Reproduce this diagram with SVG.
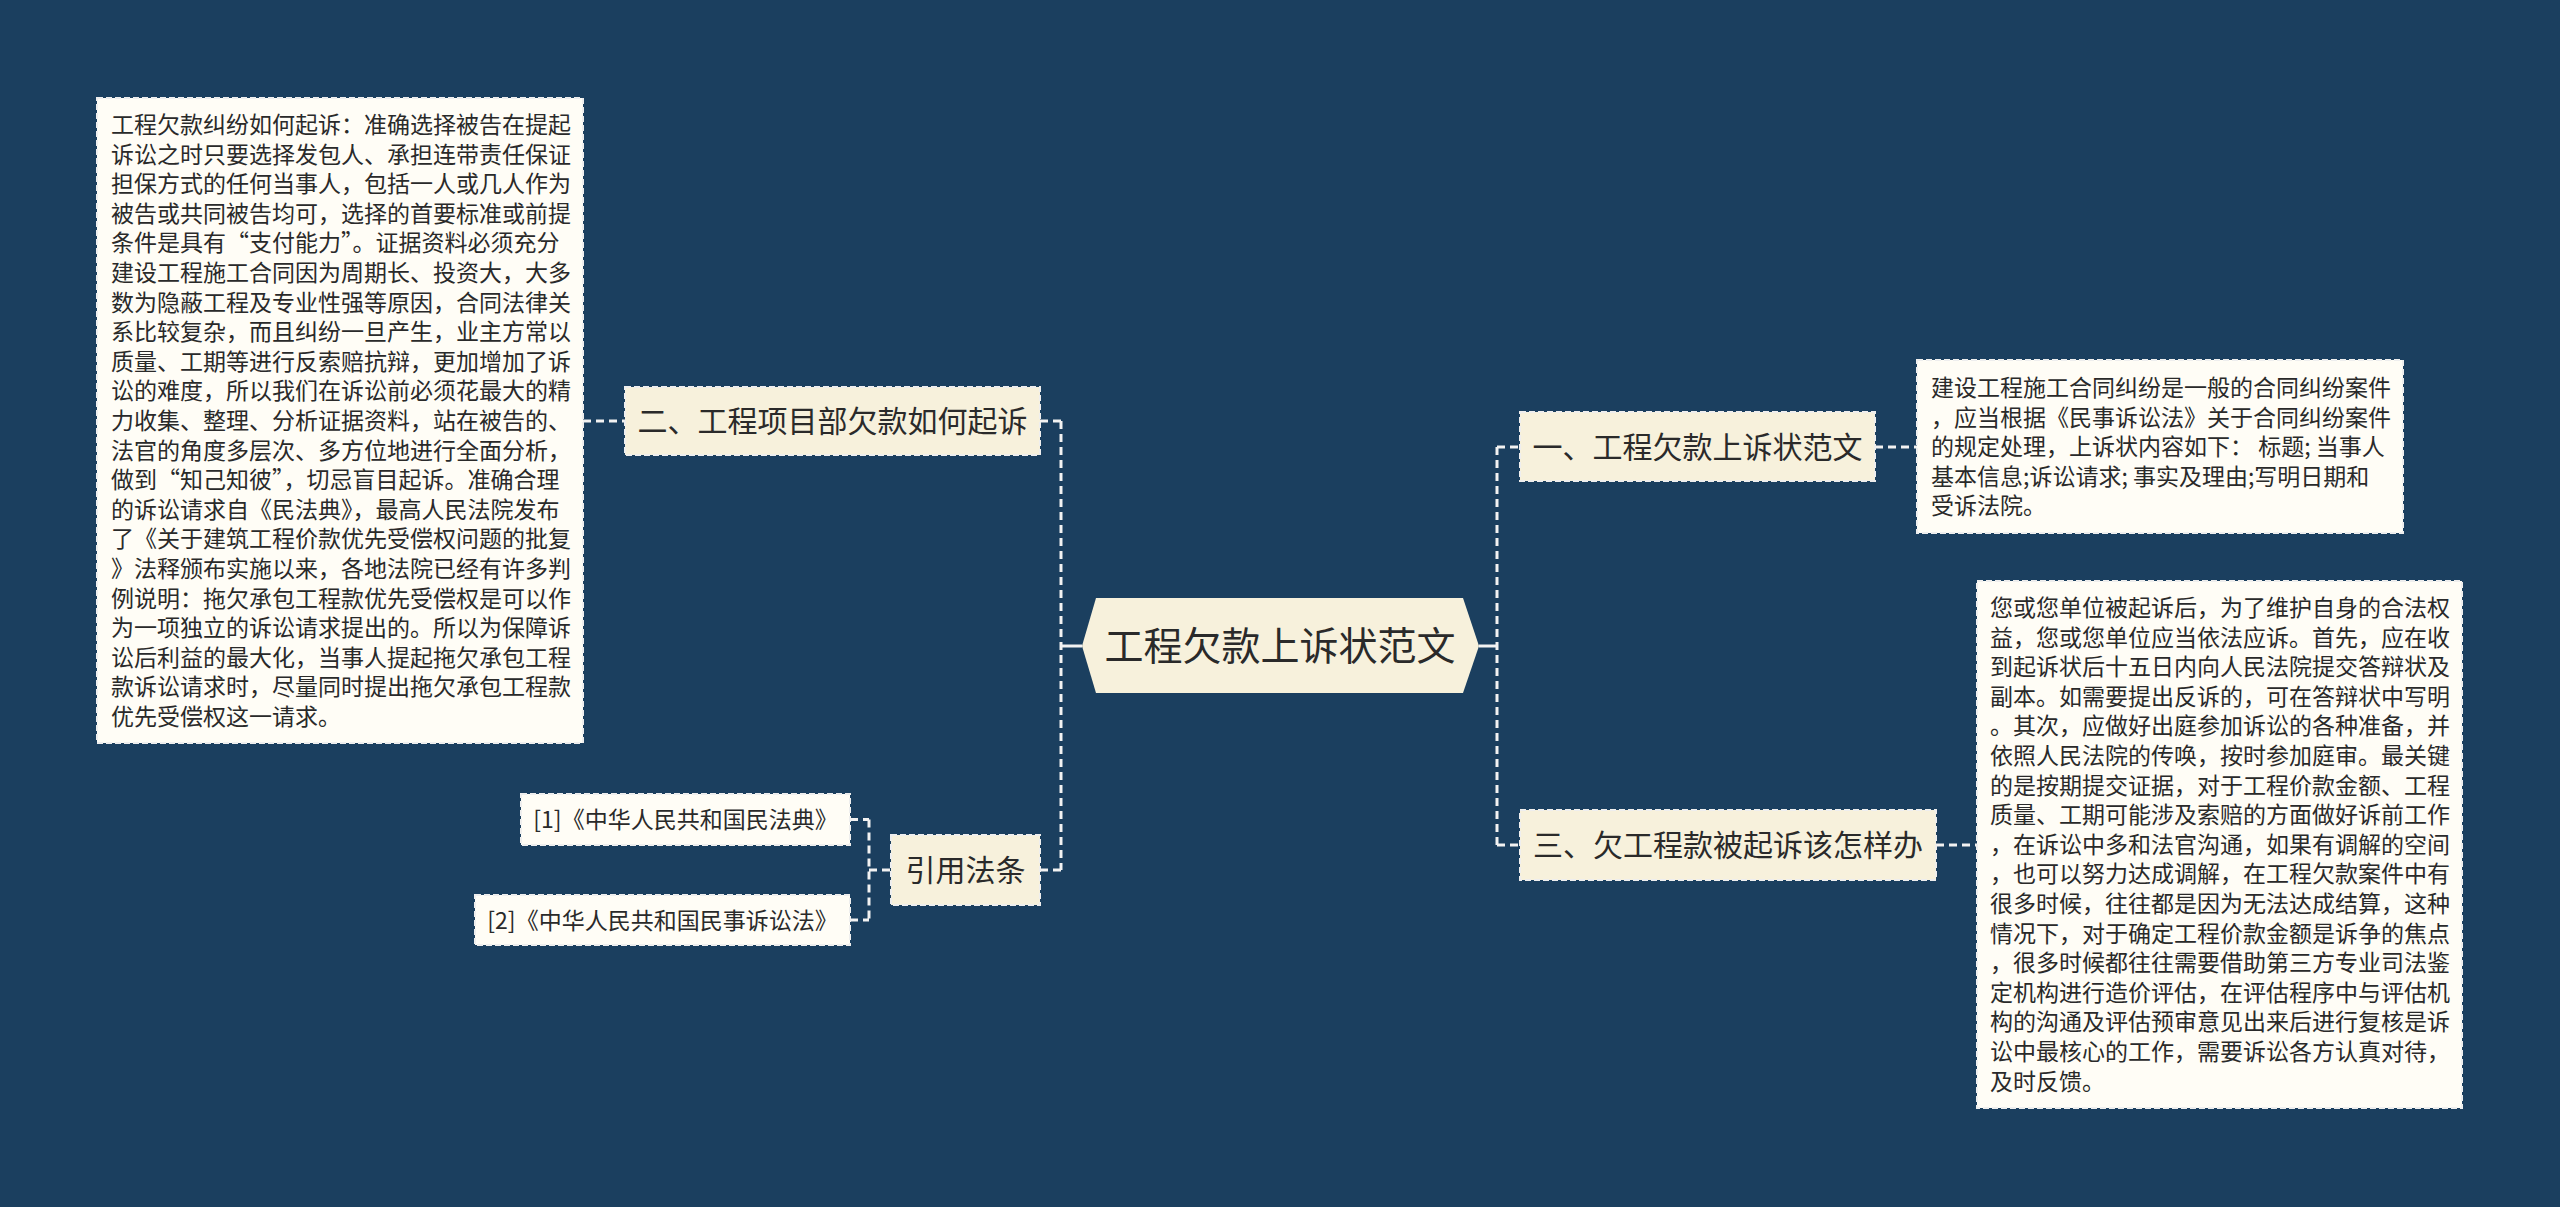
<svg xmlns="http://www.w3.org/2000/svg" width="2560" height="1207" viewBox="0 0 2560 1207">
<style>
.bg{fill:#1b3f5f}
.lvl{fill:#f7f1dc;stroke:#eeeeee;stroke-width:2;stroke-dasharray:6 3}
.leaf{fill:#fffdf6;stroke:#eeeeee;stroke-width:2;stroke-dasharray:6 3}
.t{font-family:"Noto Sans CJK SC","Noto Sans",sans-serif;fill:#2a2a2a}
.ls{font-size:23px}
.ms{font-size:30px;text-anchor:middle}
.cs{font-size:39px;text-anchor:middle}
.fw{font-feature-settings:"fwid" 1}
.c{fill:none;stroke:#f2f2f2;stroke-width:3;stroke-dasharray:8 5}
.s{fill:none;stroke:#f2f2f2;stroke-width:3}
</style>
<rect class="bg" x="0" y="0" width="2560" height="1207"/>
<g id="connectors">
<path class="c" d="M1061 421 V870"/>
<path class="c" d="M1040 421 H1061 M1040 870 H1061"/>
<path class="s" d="M1061 646 H1082"/>
<path class="c" d="M583 421 H625"/>
<path class="c" d="M869 819.5 V920 M850 819.5 H869 M850 920 H869 M869 870 H891"/>
<path class="c" d="M1497 447 V845"/>
<path class="c" d="M1497 447 H1520 M1497 845 H1520"/>
<path class="s" d="M1479 646 H1497"/>
<path class="c" d="M1875 447 H1917 M1936 845 H1977"/>
</g>
<g id="center">
<polygon points="1082,646 1096,598 1463,598 1479,646 1463,693 1096,693" fill="#f7f1dc"/>
<text class="t cs" x="1280" y="660">工程欠款上诉状范文</text>
</g>
<g id="node-er">
<rect class="lvl" x="625" y="387" width="415" height="68"/>
<text class="t ms" x="832.5" y="432">二、工程项目部欠款如何起诉</text>
</g>
<g id="node-er-detail">
<rect class="leaf" x="97" y="98" width="486" height="645"/>
<text class="t ls" x="111" y="133">
<tspan x="111" dy="0">工程欠款纠纷如何起诉：准确选择被告在提起</tspan>
<tspan x="111" dy="29.6">诉讼之时只要选择发包人、承担连带责任保证</tspan>
<tspan x="111" dy="29.6">担保方式的任何当事人，包括一人或几人作为</tspan>
<tspan x="111" dy="29.6">被告或共同被告均可，选择的首要标准或前提</tspan>
<tspan x="111" dy="29.6" class="fw">条件是具有“支付能力”。证据资料必须充分</tspan>
<tspan x="111" dy="29.6">建设工程施工合同因为周期长、投资大，大多</tspan>
<tspan x="111" dy="29.6">数为隐蔽工程及专业性强等原因，合同法律关</tspan>
<tspan x="111" dy="29.6">系比较复杂，而且纠纷一旦产生，业主方常以</tspan>
<tspan x="111" dy="29.6">质量、工期等进行反索赔抗辩，更加增加了诉</tspan>
<tspan x="111" dy="29.6">讼的难度，所以我们在诉讼前必须花最大的精</tspan>
<tspan x="111" dy="29.6">力收集、整理、分析证据资料，站在被告的、</tspan>
<tspan x="111" dy="29.6">法官的角度多层次、多方位地进行全面分析，</tspan>
<tspan x="111" dy="29.6" class="fw">做到“知己知彼”，切忌盲目起诉。准确合理</tspan>
<tspan x="111" dy="29.6">的诉讼请求自《民法典》，最高人民法院发布</tspan>
<tspan x="111" dy="29.6">了《关于建筑工程价款优先受偿权问题的批复</tspan>
<tspan x="111" dy="29.6">》法释颁布实施以来，各地法院已经有许多判</tspan>
<tspan x="111" dy="29.6">例说明：拖欠承包工程款优先受偿权是可以作</tspan>
<tspan x="111" dy="29.6">为一项独立的诉讼请求提出的。所以为保障诉</tspan>
<tspan x="111" dy="29.6">讼后利益的最大化，当事人提起拖欠承包工程</tspan>
<tspan x="111" dy="29.6">款诉讼请求时，尽量同时提出拖欠承包工程款</tspan>
<tspan x="111" dy="29.6">优先受偿权这一请求。</tspan>
</text>
</g>
<g id="node-yinyong">
<rect class="lvl" x="891" y="835" width="149" height="70"/>
<text class="t ms" x="965.5" y="881">引用法条</text>
</g>
<g id="node-law1">
<rect class="leaf" x="521" y="794" width="329" height="51"/>
<text class="t ls" x="685.5" y="828" text-anchor="middle">[1]《中华人民共和国民法典》</text>
</g>
<g id="node-law2">
<rect class="leaf" x="475" y="895" width="375" height="50"/>
<text class="t ls" x="662.5" y="928.5" text-anchor="middle">[2]《中华人民共和国民事诉讼法》</text>
</g>
<g id="node-yi">
<rect class="lvl" x="1520" y="412" width="355" height="69"/>
<text class="t ms" x="1697.5" y="458">一、工程欠款上诉状范文</text>
</g>
<g id="node-yi-detail">
<rect class="leaf" x="1917" y="360" width="486" height="173"/>
<text class="t ls" x="1931" y="396">
<tspan x="1931" dy="0">建设工程施工合同纠纷是一般的合同纠纷案件</tspan>
<tspan x="1931" dy="29.6">，应当根据《民事诉讼法》关于合同纠纷案件</tspan>
<tspan x="1931" dy="29.6">的规定处理，上诉状内容如下： 标题; 当事人</tspan>
<tspan x="1931" dy="29.6">基本信息;诉讼请求; 事实及理由;写明日期和</tspan>
<tspan x="1931" dy="29.6">受诉法院。</tspan>
</text>
</g>
<g id="node-san">
<rect class="lvl" x="1520" y="810" width="416" height="70"/>
<text class="t ms" x="1728" y="856">三、欠工程款被起诉该怎样办</text>
</g>
<g id="node-san-detail">
<rect class="leaf" x="1977" y="581" width="485" height="527"/>
<text class="t ls" x="1990" y="616">
<tspan x="1990" dy="0">您或您单位被起诉后，为了维护自身的合法权</tspan>
<tspan x="1990" dy="29.6">益，您或您单位应当依法应诉。首先，应在收</tspan>
<tspan x="1990" dy="29.6">到起诉状后十五日内向人民法院提交答辩状及</tspan>
<tspan x="1990" dy="29.6">副本。如需要提出反诉的，可在答辩状中写明</tspan>
<tspan x="1990" dy="29.6">。其次，应做好出庭参加诉讼的各种准备，并</tspan>
<tspan x="1990" dy="29.6">依照人民法院的传唤，按时参加庭审。最关键</tspan>
<tspan x="1990" dy="29.6">的是按期提交证据，对于工程价款金额、工程</tspan>
<tspan x="1990" dy="29.6">质量、工期可能涉及索赔的方面做好诉前工作</tspan>
<tspan x="1990" dy="29.6">，在诉讼中多和法官沟通，如果有调解的空间</tspan>
<tspan x="1990" dy="29.6">，也可以努力达成调解，在工程欠款案件中有</tspan>
<tspan x="1990" dy="29.6">很多时候，往往都是因为无法达成结算，这种</tspan>
<tspan x="1990" dy="29.6">情况下，对于确定工程价款金额是诉争的焦点</tspan>
<tspan x="1990" dy="29.6">，很多时候都往往需要借助第三方专业司法鉴</tspan>
<tspan x="1990" dy="29.6">定机构进行造价评估，在评估程序中与评估机</tspan>
<tspan x="1990" dy="29.6">构的沟通及评估预审意见出来后进行复核是诉</tspan>
<tspan x="1990" dy="29.6">讼中最核心的工作，需要诉讼各方认真对待，</tspan>
<tspan x="1990" dy="29.6">及时反馈。</tspan>
</text>
</g>
</svg>
